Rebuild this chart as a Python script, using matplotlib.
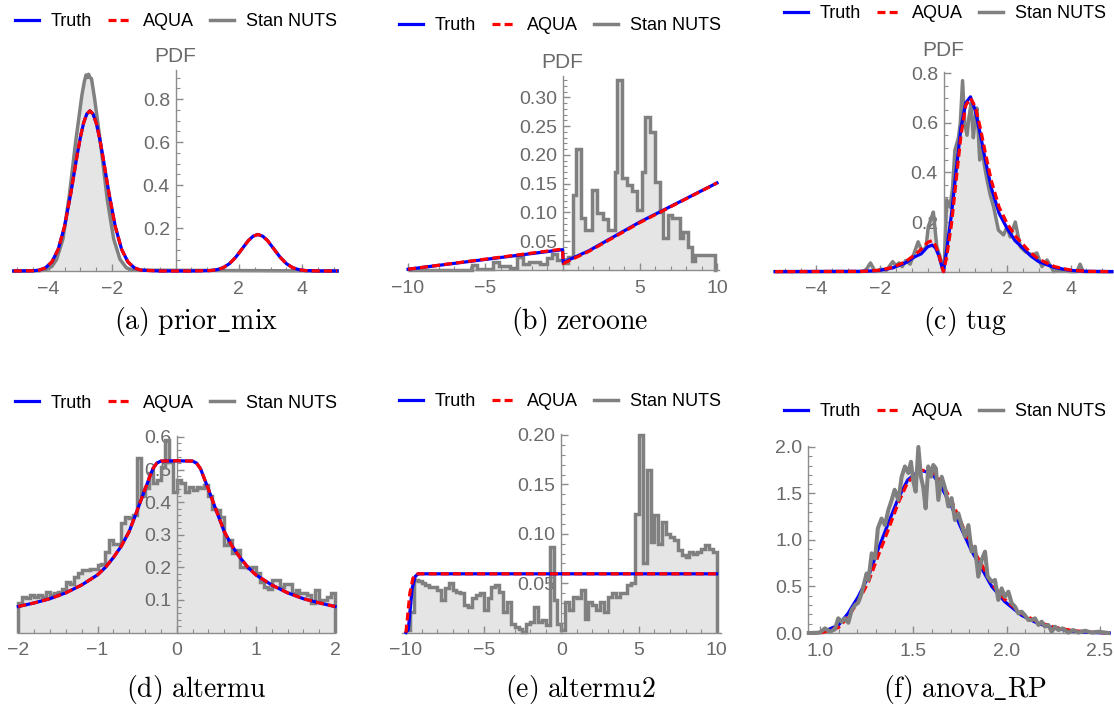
import numpy as np
import matplotlib
matplotlib.use("Agg")
import matplotlib.pyplot as plt
from matplotlib.lines import Line2D
from matplotlib.ticker import FixedLocator, MultipleLocator

plt.rcParams['font.family'] = ['Liberation Sans', 'DejaVu Sans']
plt.rcParams['mathtext.fontset'] = 'cm'

W, H = 1114, 711

# ---- (a) prior_mix ----
a_x = [-5.1, -4.5, -4.3, -4.1, -3.9, -3.7, -3.5, -3.3, -3.1, -3.0, -2.9, -2.8, -2.7, -2.6, -2.5, -2.4,
       -2.3, -2.1, -1.9, -1.7, -1.5, -1.3, -1.1, -0.5, 0.5, 1.1, 1.3, 1.5, 1.7, 1.9, 2.1, 2.3, 2.45,
       2.6, 2.75, 2.9, 3.1, 3.3, 3.5, 3.7, 3.9, 4.1, 4.5, 5.1]
a_truth = [0, 0.001, 0.004, 0.015, 0.042, 0.101, 0.207, 0.363, 0.541, 0.622, 0.688, 0.73, 0.745, 0.73,
           0.688, 0.622, 0.541, 0.363, 0.207, 0.101, 0.042, 0.015, 0.004, 0, 0, 0.002, 0.006, 0.015,
           0.034, 0.064, 0.103, 0.142, 0.162, 0.17, 0.162, 0.142, 0.103, 0.064, 0.034, 0.015, 0.006,
           0.002, 0, 0]
a_aqua = a_truth
a_nx = [-5.1, -4.3, -4.1, -3.9, -3.75, -3.55, -3.35, -3.15, -2.95, -2.87, -2.82, -2.78, -2.74, -2.7,
        -2.65, -2.55, -2.35, -2.15, -1.95, -1.75, -1.55, -1.35, 5.1]
a_nuts = [0, 0.001, 0.005, 0.021, 0.054, 0.149, 0.35, 0.6, 0.82, 0.885, 0.912, 0.9, 0.915, 0.9,
          0.895, 0.8, 0.578, 0.33, 0.149, 0.054, 0.015, 0.004, 0]

# ---- (b) zeroone ----
b_x = [-10, 0, 0.05, 1.7, 5, 10]
b_truth = [0.001, 0.035, 0.013, 0.033, 0.083, 0.151]
b_aqua = [0.001, 0.036, 0.011, 0.032, 0.082, 0.151]
b_edges = [-10, -5.88, -5.51, -4.52, -4.09, -3.40, -2.92, -2.53, -2.15, -1.46, -1.02, -0.70, -0.38,
           0, 0.38, 0.70, 0.85, 1.18, 1.46, 1.89, 2.21, 2.64, 2.97, 3.40, 3.51, 3.83, 4.15, 4.48,
           4.80, 5.12, 5.34, 5.66, 5.99, 6.31, 6.53, 6.85, 7.07, 7.6, 7.82, 8.14, 8.36, 8.57, 9.87, 10]
b_nuts = [0, 0.008, 0.001, 0.014, 0.007, 0.003, 0.023, 0.010, 0.014, 0.010, 0.020, 0.028, 0.017,
          0.012, 0.022, 0.13, 0.21, 0.09, 0.07, 0.138, 0.098, 0.089, 0.069, 0.17, 0.33, 0.16, 0.148,
          0.137, 0.104, 0.17, 0.265, 0.24, 0.152, 0.10, 0.055, 0.095, 0.09, 0.055, 0.065, 0.04,
          0.015, 0.025, 0.0]

# ---- (c) tug ----
c_x = [-5.3, -2.5, -2.0, -1.6, -1.2, -0.9, -0.7, -0.5, -0.35, -0.25, -0.15, -0.05, 0, 0.1, 0.25,
       0.4, 0.55, 0.7, 0.85, 1.0, 1.15, 1.3, 1.5, 1.75, 2.0, 2.25, 2.5, 2.75, 3.0, 3.5, 4.0, 4.5, 5.3]
c_truth = [0, 0.001, 0.005, 0.015, 0.035, 0.06, 0.072, 0.1, 0.107, 0.095, 0.065, 0.02, 0.0, 0.087,
           0.23, 0.41, 0.58, 0.68, 0.705, 0.65, 0.56, 0.46, 0.34, 0.235, 0.175, 0.125, 0.095, 0.063,
           0.04, 0.016, 0.005, 0.001, 0]
c_aqua = [0, 0.001, 0.006, 0.017, 0.04, 0.068, 0.09, 0.118, 0.125, 0.105, 0.07, 0.02, 0.0, 0.06,
          0.19, 0.37, 0.55, 0.67, 0.70, 0.665, 0.585, 0.49, 0.37, 0.26, 0.195, 0.145, 0.11, 0.075,
          0.05, 0.02, 0.006, 0.001, 0]
c_nx = [-5.3, -2.6, -2.45, -2.3, -2.15, -1.95, -1.8, -1.6, -1.5, -1.4, -1.3, -1.19, -1.05, -0.95,
        -0.8, -0.7, -0.64, -0.55, -0.48, -0.4, -0.32, -0.21, -0.11, -0.03, 0.03, 0.1, 0.2, 0.28,
        0.36, 0.47, 0.53, 0.6, 0.67, 0.74, 0.8, 0.87, 0.94, 1.0, 1.05, 1.1, 1.14, 1.2, 1.3, 1.37,
        1.47, 1.58, 1.73, 1.89, 2.0, 2.1, 2.26, 2.42, 2.58, 2.79, 2.94, 3.1, 3.26, 3.47, 3.7, 4.0,
        4.2, 4.3, 4.4, 4.6, 5.3]
c_nuts = [0, 0, 0.005, 0.035, 0.0, 0.01, 0.005, 0.04, 0.025, 0.035, 0.02, 0.045, 0.03, 0.065,
          0.12, 0.09, 0.085, 0.1, 0.18, 0.21, 0.24, 0.1, 0.06, 0.01, 0.05, 0.29, 0.26, 0.33, 0.49,
          0.54, 0.6, 0.77, 0.6, 0.55, 0.62, 0.68, 0.54, 0.62, 0.66, 0.55, 0.45, 0.5, 0.42, 0.37,
          0.31, 0.26, 0.167, 0.148, 0.18, 0.14, 0.2, 0.1, 0.08, 0.067, 0.075, 0.02, 0.047, 0.0,
          0.005, 0.0, 0.0, 0.03, 0.0, 0.0, 0]

# ---- (d) altermu ----
d_x = [-2.0, -1.8, -1.6, -1.4, -1.2, -1.0, -0.9, -0.8, -0.7, -0.6, -0.5, -0.4, -0.3, -0.25, -0.2,
       0.0, 0.2, 0.25, 0.3, 0.4, 0.5, 0.6, 0.7, 0.8, 0.9, 1.0, 1.2, 1.4, 1.6, 1.8, 2.0]
d_truth = [0.080, 0.091, 0.104, 0.122, 0.146, 0.177, 0.2, 0.23, 0.265, 0.31, 0.374, 0.44, 0.503,
           0.52, 0.526, 0.527, 0.526, 0.52, 0.503, 0.44, 0.374, 0.31, 0.265, 0.23, 0.2, 0.177,
           0.146, 0.122, 0.104, 0.091, 0.080]
d_aqua = d_truth
d_edges = np.linspace(-2, 2, 81)
d_nuts = [0.09, 0.11, 0.105, 0.115, 0.11, 0.115, 0.11, 0.125, 0.115, 0.12,
          0.125, 0.135, 0.156, 0.15, 0.17, 0.182, 0.192, 0.192, 0.194, 0.194,
          0.207, 0.21, 0.248, 0.284, 0.273, 0.273, 0.335, 0.356, 0.35, 0.36,
          0.535, 0.418, 0.442, 0.488, 0.458, 0.468, 0.508, 0.59, 0.524, 0.432,
          0.468, 0.458, 0.432, 0.447, 0.437, 0.447, 0.442, 0.452, 0.418, 0.38,
          0.376, 0.356, 0.268, 0.284, 0.243, 0.253, 0.202, 0.202, 0.197, 0.202,
          0.182, 0.156, 0.14, 0.135, 0.161, 0.161, 0.14, 0.15, 0.15, 0.12,
          0.13, 0.12, 0.12, 0.115, 0.09, 0.13, 0.1, 0.1, 0.11, 0.12]

# ---- (e) altermu2 ----
e_x = [-10, -9.85, -9.6, -9.4, -9.2, 10]
e_truth = [0, 0.003, 0.045, 0.057, 0.0595, 0.0595]
e_ax = [-10.0, -9.75, -9.55, -9.35, 10]
e_aqua = [0.0, 0.04, 0.055, 0.0595, 0.0595]
e_edges = np.linspace(-10, 10, 81)
e_nuts = [0.003, 0.021, 0.053, 0.052, 0.05, 0.048, 0.046, 0.046, 0.043, 0.033,
          0.045, 0.05, 0.043, 0.041, 0.04, 0.028, 0.026, 0.035, 0.038, 0.04,
          0.023, 0.035, 0.046, 0.048, 0.041, 0.021, 0.031, 0.009, 0.006, 0.004,
          0.001, 0.009, 0.011, 0.026, 0.011, 0.013, 0.008, 0.087, 0.033, 0.009,
          0.003, 0.031, 0.023, 0.036, 0.035, 0.043, 0.014, 0.031, 0.028, 0.023,
          0.031, 0.021, 0.036, 0.04, 0.036, 0.04, 0.04, 0.048, 0.05, 0.12,
          0.2, 0.07, 0.165, 0.092, 0.119, 0.09, 0.112, 0.1, 0.097, 0.094,
          0.084, 0.079, 0.077, 0.082, 0.08, 0.082, 0.085, 0.089, 0.085, 0.082]

# ---- (f) anova_RP ----
f_x = [0.94, 1.01, 1.1, 1.15, 1.205, 1.26, 1.31, 1.366, 1.42, 1.47, 1.536, 1.6, 1.65, 1.705, 1.76,
       1.81, 1.87, 1.92, 1.99, 2.08, 2.17, 2.26, 2.35, 2.45, 2.55]
f_truth = [0.0, 0.007, 0.086, 0.21, 0.39, 0.61, 0.89, 1.18, 1.45, 1.645, 1.75, 1.717, 1.57, 1.36,
           1.11, 0.89, 0.68, 0.5, 0.337, 0.19, 0.1, 0.05, 0.02, 0.006, 0.0]
f_aqua = [0.0, 0.004, 0.06, 0.17, 0.34, 0.55, 0.82, 1.11, 1.40, 1.62, 1.75, 1.74, 1.62, 1.42,
          1.17, 0.94, 0.72, 0.53, 0.36, 0.21, 0.115, 0.06, 0.027, 0.008, 0.0]
f_nx = [0.94, 1.0, 1.027, 1.054, 1.08, 1.098, 1.116, 1.134, 1.152, 1.17, 1.188, 1.205, 1.223, 1.25,
        1.26, 1.277, 1.295, 1.31, 1.33, 1.348, 1.366, 1.384, 1.40, 1.42, 1.4375, 1.455, 1.473,
        1.4875, 1.5, 1.5125, 1.527, 1.541, 1.553, 1.566, 1.58, 1.595, 1.607, 1.621, 1.634, 1.652,
        1.67, 1.6875, 1.705, 1.723, 1.741, 1.759, 1.777, 1.795, 1.8125, 1.83, 1.848, 1.866, 1.884,
        1.898, 1.92, 1.9375, 1.955, 1.973, 1.99, 2.009, 2.027, 2.045, 2.0625, 2.08, 2.098, 2.116,
        2.134, 2.152, 2.17, 2.1875, 2.205, 2.223, 2.241, 2.259, 2.277, 2.30, 2.33, 2.357, 2.384,
        2.42, 2.455, 2.49, 2.545]
f_nuts = [0, 0.004, 0.05, 0.014, 0.04, 0.158, 0.12, 0.158, 0.11, 0.247, 0.3, 0.326, 0.426, 0.64,
          0.57, 0.857, 0.8, 1.125, 1.23, 1.16, 1.32, 1.43, 1.54, 1.43, 1.68, 1.79, 1.72, 1.84,
          1.63, 1.52, 2.0, 1.68, 1.57, 1.34, 1.79, 1.68, 1.806, 1.77, 1.43, 1.68, 1.556, 1.36,
          1.45, 1.215, 1.287, 1.16, 1.036, 1.16, 0.875, 0.928, 0.606, 0.785, 0.875, 0.606, 0.552,
          0.57, 0.355, 0.48, 0.39, 0.444, 0.32, 0.283, 0.21, 0.23, 0.19, 0.14, 0.14, 0.158, 0.086,
          0.122, 0.068, 0.086, 0.014, 0.068, 0.032, 0.05, 0.004, 0.032, 0.004, 0.025, 0.004,
          0.014, 0]

captions = [r'$\mathrm{(a)\ prior\_mix}$', r'$\mathrm{(b)\ zeroone}$', r'$\mathrm{(c)\ tug}$',
            r'$\mathrm{(d)\ altermu}$', r'$\mathrm{(e)\ altermu2}$', r'$\mathrm{(f)\ anova\_RP}$']

BLUE, RED, GRAY, FILL = '#0000ff', '#ff0000', '#808080', '#e5e5e5'
AXC, LBL = '#8c8c8c', '#6a6a6a'
LW = 2.3
GLW = 2.5
DASH = (2.5, 1.3)

fig = plt.figure(figsize=(W / 100, H / 100), dpi=100)


def add_ax(x0, x1, ytop, ybot):
    return fig.add_axes([x0 / W, 1 - ybot / H, (x1 - x0) / W, (ybot - ytop) / H])


def setup(ax, xlim, ylim, xmaj, xmin, ymaj, ymin, origin=True):
    ax.set_xlim(xlim)
    ax.set_ylim(ylim)
    ax.patch.set_visible(False)
    for s in ['top', 'right']:
        ax.spines[s].set_visible(False)
    if origin:
        ax.spines['left'].set_position(('data', 0))
    ax.spines['bottom'].set_position(('data', 0))
    for s in ['left', 'bottom']:
        ax.spines[s].set_color(AXC)
        ax.spines[s].set_linewidth(1.0)
    ax.xaxis.set_major_locator(FixedLocator(xmaj))
    ax.xaxis.set_minor_locator(MultipleLocator(xmin))
    ax.yaxis.set_major_locator(FixedLocator(ymaj))
    ax.yaxis.set_minor_locator(MultipleLocator(ymin))
    ax.tick_params(which='both', direction='in', colors=AXC, labelcolor=LBL, labelsize=14)
    ax.tick_params(which='major', length=5, width=1)
    ax.tick_params(which='minor', length=3, width=0.8)
    ax.tick_params(axis='x', pad=7)
    ax.tick_params(axis='y', pad=4)


def legend(ax, cx, cy):
    handles = [Line2D([], [], color=BLUE, lw=LW),
               Line2D([], [], color=RED, lw=LW, dashes=DASH),
               Line2D([], [], color=GRAY, lw=GLW)]
    ax.legend(handles, ['Truth', 'AQUA', 'Stan NUTS'], loc='center', ncol=3, frameon=False,
              fontsize=13, handlelength=1.3, handletextpad=0.65, columnspacing=0.9,
              bbox_to_anchor=(cx / W, 1 - cy / H), bbox_transform=fig.transFigure)


def curves(ax, tx, ty, ax_x, ay):
    ax.plot(tx, ty, color=BLUE, lw=LW, zorder=3, clip_on=False)
    ax.plot(ax_x, ay, color=RED, lw=LW, dashes=DASH, zorder=4, clip_on=False)


# (a)
ax = add_ax(13.8, 337.2, 70, 271)
setup(ax, (-5.1, 5.1), (0, 0.935), [-4, -2, 2, 4], 0.5, [0.2, 0.4, 0.6, 0.8], 0.05)
ax.fill_between(a_nx, a_nuts, color=FILL, lw=0, zorder=1)
ax.plot(a_nx, a_nuts, color=GRAY, lw=GLW, zorder=2, clip_on=False)
curves(ax, a_x, a_truth, a_x, a_aqua)
legend(ax, 176, 22)
fig.text(175 / W, 1 - 57 / H, 'PDF', color=LBL, fontsize=15, ha='center', va='center')

# (b)
ax = add_ax(406.5, 718.5, 76, 269.8)
setup(ax, (-10.1, 10.1), (0, 0.337), [-10, -5, 5, 10], 1, [0.05, 0.10, 0.15, 0.20, 0.25, 0.30], 0.01)
ax.stairs(b_nuts, b_edges, fill=True, color=FILL, zorder=1)
ax.stairs(b_nuts, b_edges, color=GRAY, lw=GLW, zorder=2, clip_on=False)
curves(ax, b_x, b_truth, b_x, b_aqua)
legend(ax, 560, 26)
fig.text(562 / W, 1 - 62 / H, 'PDF', color=LBL, fontsize=15, ha='center', va='center')

# (c)
ax = add_ax(775.2, 1111.8, 72, 271.6)
setup(ax, (-5.3, 5.3), (0, 0.805), [-4, -2, 2, 4], 0.5, [0.2, 0.4, 0.6, 0.8], 0.05)
ax.fill_between(c_nx, c_nuts, color=FILL, lw=0, zorder=1)
ax.plot(c_nx, c_nuts, color=GRAY, lw=GLW, zorder=2, clip_on=False)
curves(ax, c_x, c_truth, c_x, c_aqua)
legend(ax, 945, 13.5)
fig.text(943 / W, 1 - 50 / H, 'PDF', color=LBL, fontsize=15, ha='center', va='center')

# (d)
ax = add_ax(18.3, 335.1, 436, 632.6)
setup(ax, (-2, 2), (0, 0.603), [-2, -1, 0, 1, 2], 0.2, [0.1, 0.2, 0.3, 0.4, 0.5, 0.6], 0.02)
ax.stairs(d_nuts, d_edges, fill=True, color=FILL, zorder=1)
ax.stairs(d_nuts, d_edges, color=GRAY, lw=GLW, zorder=2, clip_on=False)
curves(ax, d_x, d_truth, d_x, d_aqua)
legend(ax, 176, 403)

# (e)
ax = add_ax(402.1, 720.5, 434, 632.6)
setup(ax, (-10.25, 10.25), (0, 0.201), [-10, -5, 0, 5, 10], 1, [0.05, 0.10, 0.15, 0.20], 0.01)
ax.stairs(e_nuts, e_edges, fill=True, color=FILL, zorder=1)
ax.stairs(e_nuts, e_edges, color=GRAY, lw=GLW, zorder=2, clip_on=False)
curves(ax, e_x, e_truth, e_ax, e_aqua)
legend(ax, 560, 402)

# (f)
ax = add_ax(808, 1109, 446, 633)
setup(ax, (0.936, 2.548), (0, 2.01), [1.0, 1.5, 2.0, 2.5], 0.1, [0.0, 0.5, 1.0, 1.5, 2.0], 0.1,
      origin=False)
ax.fill_between(f_nx, f_nuts, color=FILL, lw=0, zorder=1)
curves(ax, f_x, f_truth, f_x, f_aqua)
ax.plot(f_nx, f_nuts, color=GRAY, lw=2.9, zorder=5, clip_on=False)
legend(ax, 945, 412)

# captions
cap_pos = [(196, 322), (580, 322), (965, 322), (196, 690), (580, 690), (965, 690)]
for (cx, cy), txt in zip(cap_pos, captions):
    fig.text(cx / W, 1 - cy / H, txt, fontsize=20, ha='center', va='center')

fig.savefig('out.png', dpi=100)
